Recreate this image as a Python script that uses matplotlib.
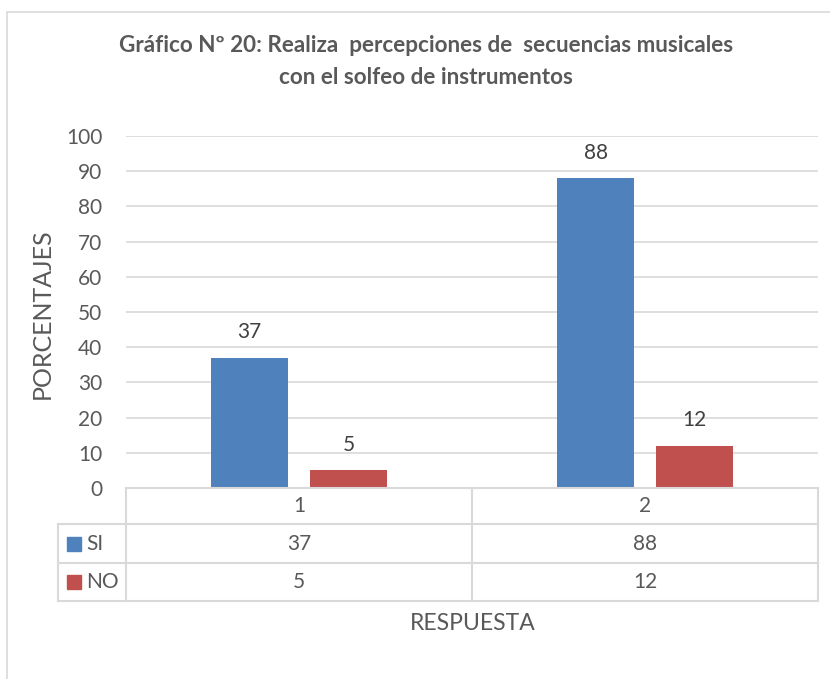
import matplotlib.pyplot as plt
from matplotlib.patches import Rectangle
from matplotlib.lines import Line2D

# Data
categories = ["1", "2"]
series_names = ["SI", "NO"]
si_values = [37, 88]
no_values = [5, 12]
y_ticks = list(range(0, 101, 10))

SI_COLOR = "#4f81bd"
NO_COLOR = "#c0504d"
TEXT = "#595959"
GRID = "#d9d9d9"

plt.rcParams["font.family"] = ["Lato", "DejaVu Sans"]

W, H = 830, 679
fig = plt.figure(figsize=(W / 100, H / 100), dpi=100)


def fx(px):
    return px / W


def fy(py):
    return 1 - py / H


# outer chart border (runs off the right and bottom edges)
fig.patches.append(Rectangle((fx(7), fy(690)), fx(840) - fx(7), fy(12) - fy(690),
                             transform=fig.transFigure, fill=False,
                             edgecolor=GRID, linewidth=1.2))

# plot area
left, right, top, bottom = 126, 818, 136, 488
ax = fig.add_axes([fx(left), fy(bottom), fx(right) - fx(left), fy(top) - fy(bottom)])

x = list(range(len(categories)))
width = 0.225
offset = 0.143
bars_si = ax.bar([i - offset for i in x], si_values, width, color=SI_COLOR, zorder=3)
bars_no = ax.bar([i + offset for i in x], no_values, width, color=NO_COLOR, zorder=3)

for bars, vals in ((bars_si, si_values), (bars_no, no_values)):
    for b, v in zip(bars, vals):
        ax.annotate(str(v), (b.get_x() + b.get_width() / 2, v), xytext=(0, 18.5),
                    textcoords="offset points", ha="center", va="center",
                    fontsize=15, color="#404040")

ax.set_xlim(-0.5, len(categories) - 0.5)
ax.set_ylim(0, 100)
ax.set_yticks(y_ticks)
ax.tick_params(axis="y", length=0, labelsize=15, labelcolor=TEXT, pad=17)
ax.set_xticks([])
ax.yaxis.grid(True, color=GRID, linewidth=1.2)
ax.set_axisbelow(True)
for s in ax.spines.values():
    s.set_visible(False)

fig.text(fx(42), fy(314), "PORCENTAJES", rotation=90, ha="center", va="center",
         fontsize=18, color=TEXT)

# data table below the plot
t_left = 58
col_edges = [126, 472, 818]
row_edges = [488, 524, 563, 601]


def hline(py, x0, x1):
    fig.lines.append(Line2D([fx(x0), fx(x1)], [fy(py), fy(py)], transform=fig.transFigure,
                            color=GRID, linewidth=1.5))


def vline(px, y0, y1):
    fig.lines.append(Line2D([fx(px), fx(px)], [fy(y0), fy(y1)], transform=fig.transFigure,
                            color=GRID, linewidth=1.5))


hline(row_edges[0], col_edges[0], col_edges[-1])
for py in row_edges[1:]:
    hline(py, t_left, col_edges[-1])
for px in col_edges:
    vline(px, row_edges[0], row_edges[-1])
vline(t_left, row_edges[1], row_edges[-1])

col_centers = [(col_edges[i] + col_edges[i + 1]) / 2 for i in range(len(categories))]
row_centers = [(row_edges[i] + row_edges[i + 1]) / 2 for i in range(len(row_edges) - 1)]

for c, cat in zip(col_centers, categories):
    fig.text(fx(c), fy(row_centers[0]), cat, ha="center", va="center", fontsize=15, color=TEXT)

for r, name, vals, color in zip(row_centers[1:], series_names, (si_values, no_values),
                                (SI_COLOR, NO_COLOR)):
    fig.patches.append(Rectangle((fx(67), fy(r + 7)), fx(14), fy(0) - fy(14),
                                 transform=fig.transFigure, color=color))
    fig.text(fx(86), fy(r), name, ha="left", va="center", fontsize=15, color=TEXT)
    for c, v in zip(col_centers, vals):
        fig.text(fx(c), fy(r), str(v), ha="center", va="center", fontsize=15, color=TEXT)

fig.text(fx(473), fy(624), "RESPUESTA", ha="center", va="center", fontsize=16.5, color=TEXT)

fig.text(fx(426), fy(46), "Gráfico Nº 20: Realiza  percepciones de  secuencias musicales",
         ha="center", va="center", fontsize=16.2, fontweight="bold", color=TEXT)
fig.text(fx(426), fy(77), "con el solfeo de instrumentos",
         ha="center", va="center", fontsize=16.2, fontweight="bold", color=TEXT)

fig.savefig("out.png", dpi=100)
